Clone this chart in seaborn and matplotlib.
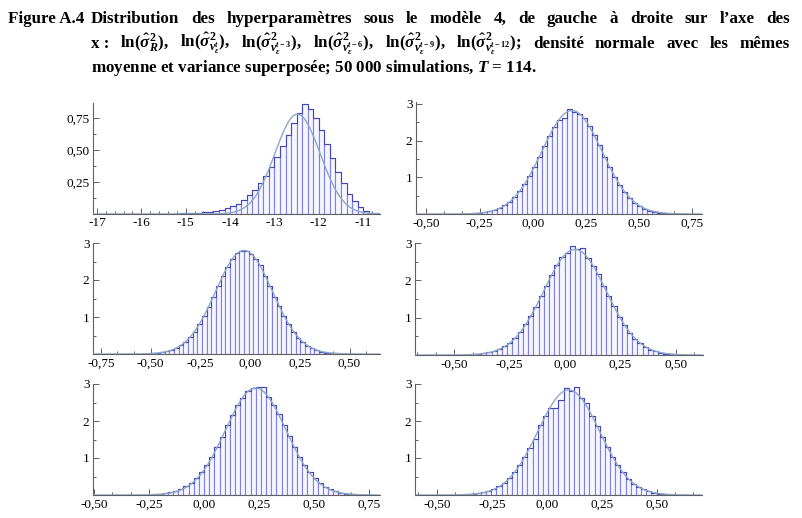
import numpy as np
import pandas as pd
import matplotlib
matplotlib.use("Agg")
import matplotlib.pyplot as plt
from matplotlib.ticker import FixedLocator, MultipleLocator, FuncFormatter
import seaborn as sns

# ---------------- data ----------------
# panel 1 : ln(sigma_R^2), bin width 0.125 starting at -16.25
p1_start = -16.25
p1_width = 0.125
p1_heights = [0.001, 0.001, 0.001, 0.001, 0.001, 0.001, 0.002, 0.002, 0.003, 0.004,
              0.005, 0.007, 0.009, 0.013, 0.018, 0.024, 0.033, 0.045, 0.06, 0.08,
              0.11, 0.15, 0.19, 0.24, 0.30, 0.37, 0.45, 0.53, 0.62, 0.71,
              0.79, 0.86, 0.82, 0.75, 0.66, 0.55, 0.44, 0.33, 0.24, 0.16,
              0.10, 0.055, 0.025, 0.01, 0.004]
p1_mean, p1_sd = -12.48, 0.51

# panels 2-6 : bin width 0.0235
bw = 0.0235
p2_start = -0.3555
p2_heights = [0.004, 0.007, 0.010, 0.017, 0.028, 0.045, 0.07, 0.11, 0.16, 0.235,
              0.33, 0.46, 0.62, 0.81, 1.03, 1.28, 1.55, 1.85, 2.12, 2.38,
              2.55, 2.62, 2.86, 2.78, 2.72, 2.62, 2.40, 2.16, 1.87, 1.56,
              1.28, 1.02, 0.80, 0.60, 0.44, 0.31, 0.22, 0.145, 0.095, 0.06,
              0.036, 0.021, 0.012, 0.007, 0.004, 0.002]
p2_mean, p2_sd = 0.185, 0.1415

p3_start = -0.5705
p3_heights = [0.005, 0.008, 0.012, 0.018, 0.028, 0.045, 0.068, 0.105, 0.155, 0.23,
              0.33, 0.45, 0.60, 0.80, 1.02, 1.27, 1.55, 1.84, 2.12, 2.36,
              2.58, 2.72, 2.79, 2.79, 2.70, 2.56, 2.40, 2.12, 1.85, 1.55,
              1.30, 1.02, 0.80, 0.60, 0.44, 0.32, 0.22, 0.15, 0.10, 0.064,
              0.04, 0.024, 0.014, 0.008, 0.005, 0.003]
p3_mean, p3_sd = -0.03, 0.1425

p4_start = -0.4955
p4_heights = [0.004, 0.007, 0.011, 0.017, 0.027, 0.043, 0.067, 0.10, 0.155, 0.23,
              0.33, 0.46, 0.62, 0.82, 1.04, 1.29, 1.57, 1.86, 2.13, 2.40,
              2.62, 2.72, 2.91, 2.84, 2.86, 2.60, 2.38, 2.16, 1.86, 1.57,
              1.31, 1.02, 0.80, 0.60, 0.44, 0.31, 0.21, 0.145, 0.095, 0.06,
              0.036, 0.021, 0.012, 0.007, 0.004, 0.002]
p4_mean, p4_sd = 0.045, 0.141

p5_start = -0.3055
p5_heights = [0.005, 0.008, 0.012, 0.018, 0.028, 0.045, 0.07, 0.105, 0.155, 0.23,
              0.33, 0.46, 0.62, 0.81, 1.03, 1.30, 1.58, 1.88, 2.17, 2.42,
              2.62, 2.80, 2.88, 2.93, 2.93, 2.66, 2.44, 2.19, 1.89, 1.59,
              1.31, 1.04, 0.81, 0.61, 0.45, 0.32, 0.22, 0.15, 0.098, 0.062,
              0.038, 0.022, 0.013, 0.007, 0.004, 0.002]
p5_mean, p5_sd = 0.235, 0.138

p6_start = -0.4405
p6_heights = [0.004, 0.007, 0.011, 0.017, 0.027, 0.043, 0.068, 0.105, 0.16, 0.235,
              0.33, 0.46, 0.62, 0.81, 1.02, 1.28, 1.52, 1.88, 2.14, 2.34,
              2.36, 2.58, 2.88, 2.80, 2.92, 2.62, 2.48, 2.14, 1.86, 1.58,
              1.30, 1.03, 0.80, 0.61, 0.44, 0.31, 0.22, 0.15, 0.098, 0.062,
              0.038, 0.022, 0.013, 0.007, 0.004, 0.002]
p6_mean, p6_sd = 0.10, 0.1405

p1_xticks = [-17, -16, -15, -14, -13, -12, -11]
p1_yticks = [0.25, 0.50, 0.75]
small_yticks = [1, 2, 3]
p2_xticks = [-0.50, -0.25, 0.00, 0.25, 0.50, 0.75]
p3_xticks = [-0.75, -0.50, -0.25, 0.00, 0.25, 0.50]
p4_xticks = [-0.50, -0.25, 0.00, 0.25, 0.50]
p5_xticks = [-0.50, -0.25, 0.00, 0.25, 0.50, 0.75]
p6_xticks = [-0.50, -0.25, 0.00, 0.25, 0.50]

# ---------------- style ----------------
sns.set_style("ticks")
plt.rcParams["font.family"] = ["Liberation Serif", "DejaVu Serif"]
plt.rcParams["axes.unicode_minus"] = False
plt.rcParams["mathtext.fontset"] = "custom"
plt.rcParams["mathtext.rm"] = "Liberation Serif:bold"
plt.rcParams["mathtext.it"] = "Liberation Serif:italic:bold"
plt.rcParams["mathtext.bf"] = "Liberation Serif:bold"

W, H = 803, 518
fig = plt.figure(figsize=(W / 100, H / 100), dpi=100)
fig.patch.set_facecolor("white")

BAR_FACE = "#f6f6ff"
BAR_EDGE = "#7f7fee"
STEP_COL = "#4646bc"
CURVE_COL = "#8ea8c6"
AX_COL = "#606060"


def add_ax(x0, y0, x1, y1):
    return fig.add_axes([x0 / W, 1 - y1 / H, (x1 - x0) / W, (y1 - y0) / H])


def comma(fmt):
    return FuncFormatter(lambda v, _: fmt.format(v).replace(".", ","))


def draw_panel(box, start, width, heights, mean, sd, xlim, ylim,
               xticks, xminor, yticks, yminor, xfmt, yfmt):
    ax = add_ax(*box)
    n = len(heights)
    edges = [start + width * i for i in range(n + 1)]
    centers = [(edges[i] + edges[i + 1]) / 2 for i in range(n)]
    df = pd.DataFrame({"x": centers, "h": heights})
    sns.histplot(data=df, x="x", weights="h", bins=edges, stat="count",
                 element="bars", fill=True, facecolor=BAR_FACE, alpha=1,
                 edgecolor=BAR_EDGE, linewidth=0.8, ax=ax)
    sns.histplot(data=df, x="x", weights="h", bins=edges, stat="count",
                 element="step", fill=False, color=STEP_COL, linewidth=0.8, ax=ax)
    xs = np.linspace(xlim[0], xlim[1], 400)
    ys = np.exp(-0.5 * ((xs - mean) / sd) ** 2) / (sd * np.sqrt(2 * np.pi))
    sns.lineplot(x=xs, y=ys, color=CURVE_COL, linewidth=1.0, ax=ax, zorder=5)
    ax.set_xlim(*xlim)
    ax.set_ylim(*ylim)
    ax.set_xlabel("")
    ax.set_ylabel("")
    ax.xaxis.set_major_locator(FixedLocator(xticks))
    ax.xaxis.set_minor_locator(MultipleLocator(xminor))
    ax.yaxis.set_major_locator(FixedLocator(yticks))
    ax.yaxis.set_minor_locator(MultipleLocator(yminor))
    ax.xaxis.set_major_formatter(xfmt)
    ax.yaxis.set_major_formatter(yfmt)
    for s in ["top", "right"]:
        ax.spines[s].set_visible(False)
    for s in ["left", "bottom"]:
        ax.spines[s].set_color(AX_COL)
        ax.spines[s].set_linewidth(0.8)
    ax.tick_params(which="both", direction="in", colors=AX_COL, labelcolor="black",
                   labelsize=9.5, width=0.7)
    ax.tick_params(which="major", length=4.5, pad=2.5)
    ax.tick_params(which="minor", length=2.5)
    ax.set_facecolor("white")
    ax.grid(False)
    return ax


draw_panel((93, 103, 380, 214), p1_start, p1_width, p1_heights, p1_mean, p1_sd,
           (-17.09, -10.62), (0, 0.87), p1_xticks, 0.2, p1_yticks, 0.125,
           comma("{:.0f}"), comma("{:.2f}"))
draw_panel((416, 102, 702, 214), p2_start, bw, p2_heights, p2_mean, p2_sd,
           (-0.549, 0.797), (0, 3.05), p2_xticks, 0.25 / 3, small_yticks, 0.5,
           comma("{:.2f}"), comma("{:.0f}"))
draw_panel((93, 243, 380, 354), p3_start, bw, p3_heights, p3_mean, p3_sd,
           (-0.789, 0.653), (0, 3.0), p3_xticks, 0.25 / 3, small_yticks, 0.5,
           comma("{:.2f}"), comma("{:.0f}"))
draw_panel((415, 243, 703, 355), p4_start, bw, p4_heights, p4_mean, p4_sd,
           (-0.677, 0.623), (0, 3.0), p4_xticks, 0.25 / 3, small_yticks, 0.5,
           comma("{:.2f}"), comma("{:.0f}"))
draw_panel((93, 384, 380, 495), p5_start, bw, p5_heights, p5_mean, p5_sd,
           (-0.505, 0.80), (0, 3.0), p5_xticks, 0.25 / 3, small_yticks, 0.5,
           comma("{:.2f}"), comma("{:.0f}"))
draw_panel((415, 384, 702, 495), p6_start, bw, p6_heights, p6_mean, p6_sd,
           (-0.599, 0.706), (0, 3.0), p6_xticks, 0.25 / 3, small_yticks, 0.5,
           comma("{:.2f}"), comma("{:.0f}"))

# ---------------- caption ----------------
renderer = fig.canvas.get_renderer()
TK = dict(fontweight="bold", va="baseline", ha="left", color="black")

line3 = r"moyenne et variance superposée; 50 000 simulations, $T$ = 114."
probe = fig.text(0, 0, line3, fontsize=11, **TK)
w3 = probe.get_window_extent(renderer).width
probe.remove()
fs = 11 * 444 / w3
TK["fontsize"] = fs


def justify(words, x0, x1, ybase):
    texts = [fig.text(0, 0, w, **TK) for w in words]
    widths = [t.get_window_extent(renderer).width for t in texts]
    gap = (x1 - x0 - sum(widths)) / (len(words) - 1)
    x = x0
    for t, w in zip(texts, widths):
        t.set_position((x / W, 1 - ybase / H))
        x += w + gap


fig.text(8 / W, 1 - 23 / H, "Figure A.4", **TK)
line1 = ["Distribution", "des", "hyperparamètres", "sous", "le", "modèle", "4,",
         "de", "gauche", "à", "droite", "sur", "l’axe", "des"]
justify(line1, 91, 790, 23)

sig = r"\mathrm{ln}(\hat{\sigma}^{2}_{%s})"
line2 = ["x :",
         "$" + sig % "R" + "$,",
         "$" + sig % r"v^{t}_{\varepsilon}" + "$,",
         "$" + sig % r"v^{t-3}_{\varepsilon}" + "$,",
         "$" + sig % r"v^{t-6}_{\varepsilon}" + "$,",
         "$" + sig % r"v^{t-9}_{\varepsilon}" + "$,",
         "$" + sig % r"v^{t-12}_{\varepsilon}" + "$;",
         "densité", "normale", "avec", "les", "mêmes"]
justify(line2, 91, 790, 48)

fig.text(91 / W, 1 - 72 / H, line3, **TK)

fig.savefig("out.png", dpi=100, facecolor="white")
